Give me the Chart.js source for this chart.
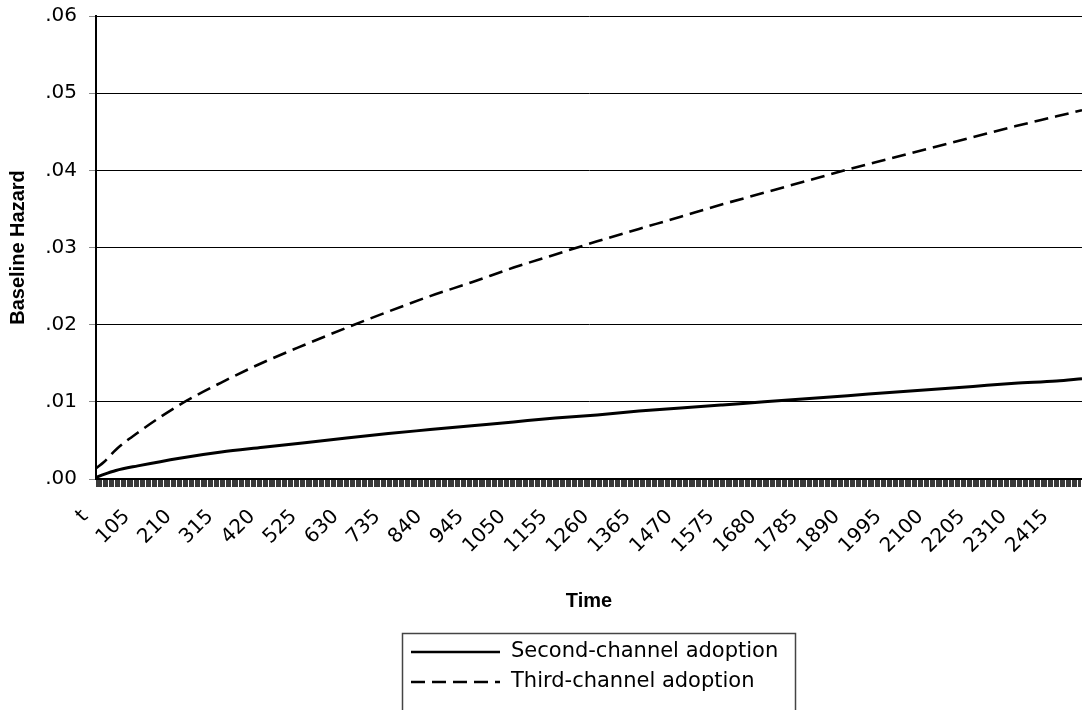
<!DOCTYPE html>
<html>
<head>
<meta charset="utf-8">
<script src="https://cdn.jsdelivr.net/npm/chart.js@4/dist/chart.umd.min.js"></script>
<style>
html,body{margin:0;padding:0;background:#fff;}
#wrap{width:1082px;height:710px;position:relative;}
</style>
</head>
<body>
<div id="wrap"><canvas id="c" width="1082" height="710"></canvas></div>
<script>
// ---- data ----
const times = [0, 20, 50, 105, 210, 315, 420, 525, 630, 735, 840, 945, 1050, 1155, 1260, 1365, 1470, 1575, 1680, 1785, 1890, 1995, 2100, 2205, 2310, 2415, 2479];
const secondChannel = [0.0002, 0.0006, 0.0011, 0.0017, 0.0027, 0.0035, 0.0041, 0.0047, 0.0053, 0.0059, 0.0064, 0.0069, 0.0074, 0.0079, 0.0083, 0.0088, 0.0092, 0.0096, 0.0100, 0.0104, 0.0108, 0.0112, 0.0116, 0.0120, 0.0124, 0.0127, 0.0130];
const thirdChannel  = [0.0014, 0.0022, 0.0038, 0.0060, 0.0096, 0.0125, 0.0151, 0.0174, 0.0196, 0.0217, 0.0237, 0.0255, 0.0274, 0.0291, 0.0308, 0.0324, 0.0340, 0.0356, 0.0371, 0.0386, 0.0401, 0.0415, 0.0429, 0.0443, 0.0457, 0.0470, 0.0478];
const seriesNames = ['Second-channel adoption', 'Third-channel adoption'];
const xTickLabels = ['t','105','210','315','420','525','630','735','840','945','1050','1155','1260','1365','1470','1575','1680','1785','1890','1995','2100','2205','2310','2415'];
const xLabelStep = 105;
const yTickLabels = ['.00','.01','.02','.03','.04','.05','.06'];
const xTitle = 'Time';
const yTitle = 'Baseline Hazard';

const toPoints = (xs, ys) => xs.map((x, i) => ({x: x, y: ys[i]}));

const tickFont = {family: 'DejaVu Sans', size: 20};
const titleFont = {family: 'Liberation Sans', size: 20, weight: 'bold'};

const legendBox = {
  id: 'legendBox',
  afterDraw(chart) {
    const ctx = chart.ctx;
    ctx.save();
    ctx.strokeStyle = '#444';
    ctx.lineWidth = 1.5;
    ctx.strokeRect(402.5, 633.5, 393, 100);
    const rows = [652, 682];
    chart.data.datasets.forEach((ds, i) => {
      const y = rows[i];
      ctx.beginPath();
      ctx.setLineDash(ds.borderDash || []);
      ctx.strokeStyle = ds.borderColor;
      ctx.lineWidth = 2.5;
      ctx.moveTo(411, y);
      ctx.lineTo(500, y);
      ctx.stroke();
      ctx.setLineDash([]);
      ctx.fillStyle = '#000';
      ctx.font = '21px "DejaVu Sans"';
      ctx.textBaseline = 'middle';
      ctx.textAlign = 'left';
      ctx.fillText(ds.label, 511, y);
    });
    ctx.restore();
  }
};

new Chart(document.getElementById('c'), {
  type: 'line',
  data: {
    datasets: [
      {label: seriesNames[0], data: toPoints(times, secondChannel), borderColor: '#000', borderWidth: 3, pointRadius: 0, cubicInterpolationMode: 'monotone', fill: false},
      {label: seriesNames[1], data: toPoints(times, thirdChannel), borderColor: '#000', borderWidth: 2.6, borderDash: [14, 7], pointRadius: 0, cubicInterpolationMode: 'monotone', fill: false}
    ]
  },
  options: {
    responsive: false,
    animation: false,
    devicePixelRatio: 1,
    layout: {padding: {top: 16, right: 0, bottom: 93, left: 0}},
    plugins: {legend: {display: false}, tooltip: {enabled: false}},
    scales: {
      x: {
        type: 'linear',
        min: 0,
        max: 2479,
        offset: false,
        grid: {drawOnChartArea: false, drawTicks: true, tickLength: 8, tickColor: '#3a3a3a', tickWidth: 1},
        border: {color: '#000', width: 2},
        ticks: {
          stepSize: 3,
          autoSkip: false,
          maxRotation: 45,
          minRotation: 45,
          labelOffset: -11,
          padding: 18,
          color: '#000',
          font: tickFont,
          callback: (v) => (v % xLabelStep === 0 && xTickLabels[v / xLabelStep] !== undefined) ? xTickLabels[v / xLabelStep] : ''
        },
        title: {display: true, text: xTitle, color: '#000', font: titleFont, padding: {top: 0, bottom: 4}},
        afterFit: (s) => { s.height = 138; s.paddingLeft = 0; s.paddingRight = 0; }
      },
      y: {
        min: 0,
        max: 0.06,
        grid: {color: '#000', lineWidth: 1, tickLength: 7, tickColor: '#888'},
        border: {color: '#000', width: 2},
        ticks: {
          stepSize: 0.01,
          padding: 12,
          color: '#000',
          font: tickFont,
          callback: (v, i) => yTickLabels[Math.round(v * 100)]
        },
        title: {display: true, text: yTitle, color: '#000', font: titleFont, padding: {top: 6, bottom: 0}},
        afterFit: (s) => { s.width = 96; s.paddingTop = 0; s.paddingBottom = 0; }
      }
    }
  },
  plugins: [legendBox]
});
</script>
</body>
</html>
